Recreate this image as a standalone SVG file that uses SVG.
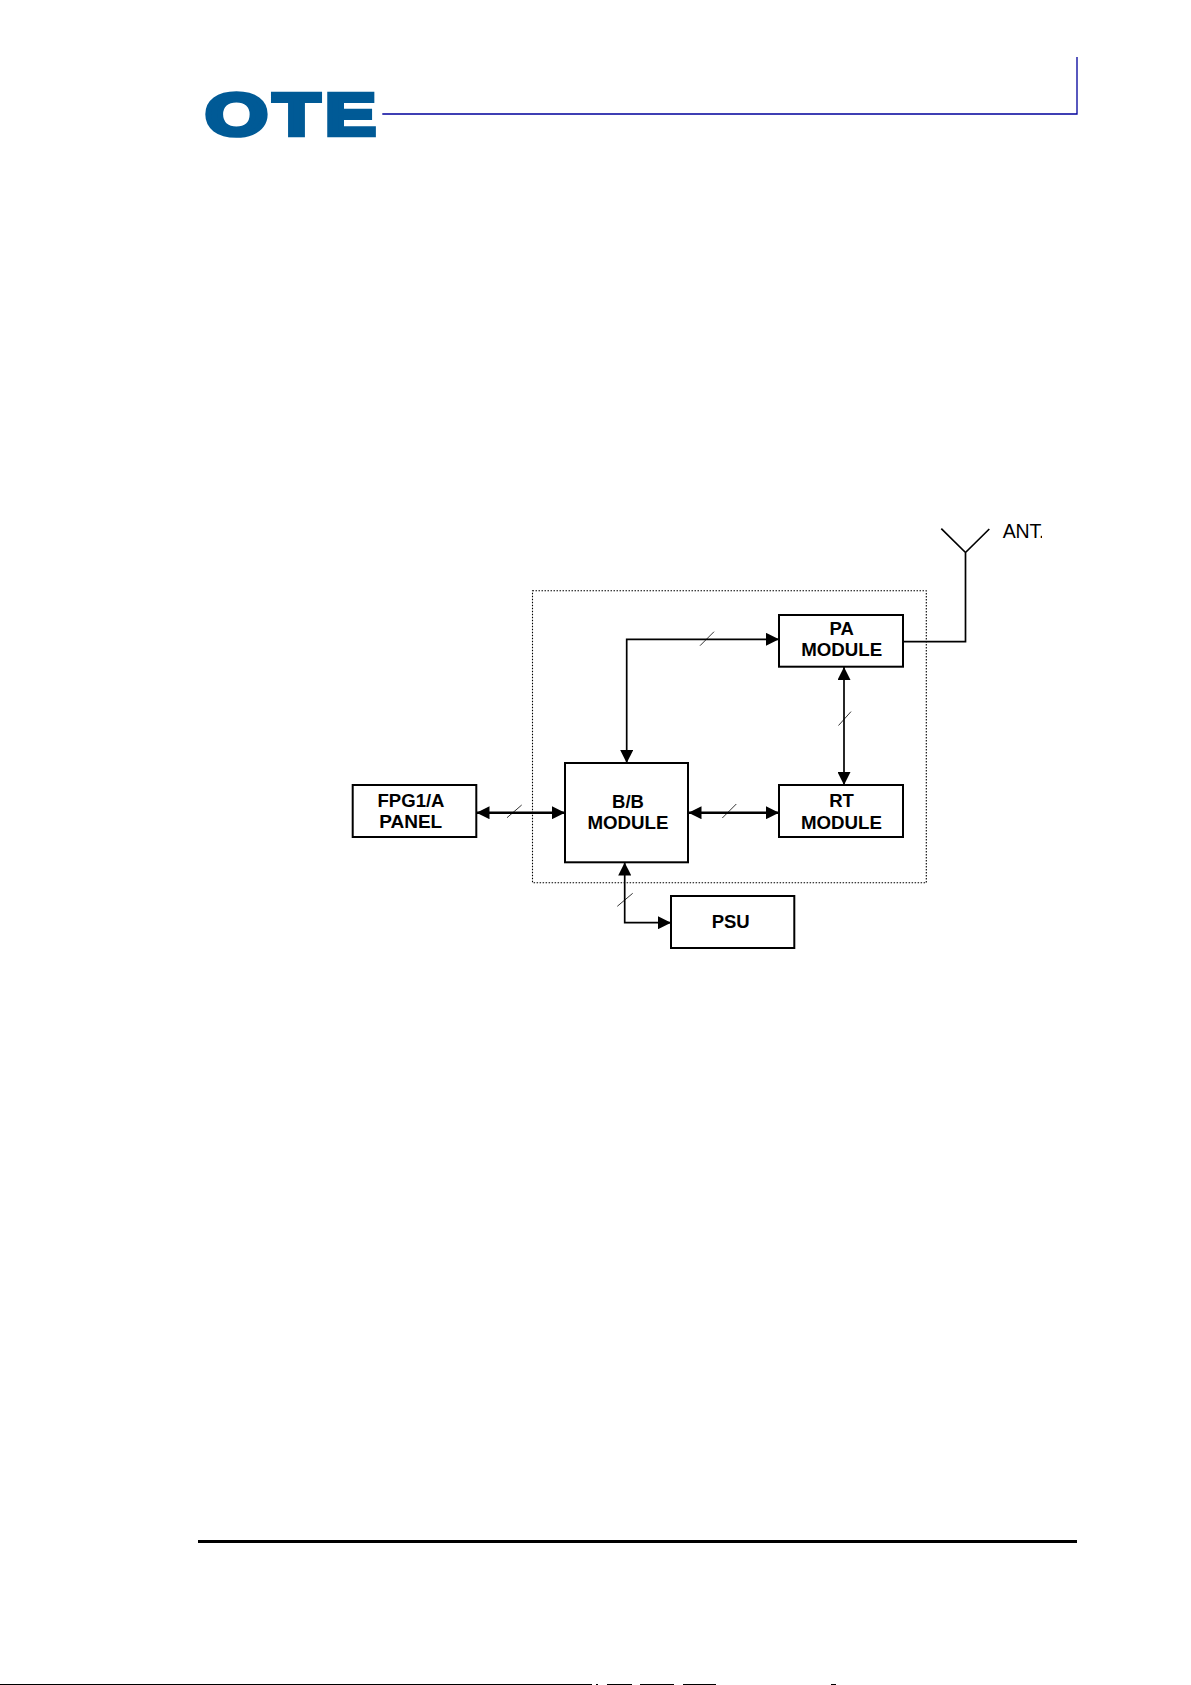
<svg xmlns="http://www.w3.org/2000/svg" width="1191" height="1685" viewBox="0 0 1191 1685">
<defs>
<style>
.box{fill:#fff;stroke:#000;stroke-width:2}
.lbl{font-family:"Liberation Sans",Arial,sans-serif;font-weight:700;font-size:18.5px;text-anchor:middle;fill:#000}
.c{fill:none;stroke:#000;stroke-width:1.7}
.t{fill:none;stroke:#000;stroke-width:2.4}
.s{fill:none;stroke:#000;stroke-width:.8}
.logo{font-family:"Liberation Sans",Arial,sans-serif;font-weight:700;font-size:60px;fill:#005a96;stroke:#005a96;stroke-width:4.5}
.edge{fill:#000}
</style>
<marker id="a" viewBox="0 0 13 13" refX="13" refY="6.5" markerUnits="userSpaceOnUse" markerWidth="13" markerHeight="13" orient="auto-start-reverse"><path d="M0 0L13 6.5L0 13z" fill="#000"/></marker>
<clipPath id="antclip"><rect x="995" y="510" width="47" height="40"/></clipPath>
</defs>
<rect width="1191" height="1685" fill="#fff"/>
<g id="header">
<text class="logo" x="205" y="135" textLength="63" lengthAdjust="spacingAndGlyphs">O</text>
<text class="logo" x="273" y="135" textLength="47" lengthAdjust="spacingAndGlyphs">T</text>
<text class="logo" x="325" y="135" textLength="51" lengthAdjust="spacingAndGlyphs">E</text>
<path d="M382.3 114H1077V57" fill="none" stroke="#00009c" stroke-width="1.3"/>
</g>
<rect id="footer-rule" x="198" y="1540" width="879" height="3" fill="#000"/>
<g id="page-edge">
<rect class="edge" x="0" y="1684" width="592" height="1"/>
<rect class="edge" x="596" y="1684" width="2" height="1"/>
<rect class="edge" x="607" y="1684" width="25" height="1"/>
<rect class="edge" x="640" y="1684" width="34" height="1"/>
<rect class="edge" x="683" y="1684" width="33" height="1"/>
<rect class="edge" x="831" y="1684" width="5" height="1"/>
</g>
<rect id="enclosure" x="532.5" y="590.7" width="393.8" height="292" fill="none" stroke="#000" stroke-width="1.1" stroke-dasharray="1.5 1.5"/>
<g id="connectors">
<path class="c" d="M626.7 763V639.3H779" marker-start="url(#a)" marker-end="url(#a)"/>
<path class="c" d="M844 667V785" marker-start="url(#a)" marker-end="url(#a)"/>
<path class="t" d="M476.5 812.7H565" marker-start="url(#a)" marker-end="url(#a)"/>
<path class="t" d="M688.5 812.7H779" marker-start="url(#a)" marker-end="url(#a)"/>
<path class="c" d="M624.7 862.5V922.7H671" marker-start="url(#a)" marker-end="url(#a)"/>
<path class="c" d="M903 641.7H965.5V552.5M965.5 552.5L941.3 528.7M965.5 552.5L989.3 529"/>
<path class="s" d="M700 645.7L714 631.7M838.5 725.5L851 711.6M507 817.7L521.7 805M722.3 818L736.3 804M617.3 906.3L632.7 893.3"/>
</g>
<g id="pa"><rect class="box" x="779" y="615" width="124" height="51.7"/><text class="lbl" x="841.7" y="635">PA</text><text class="lbl" x="841.7" y="656" textLength="81" lengthAdjust="spacingAndGlyphs">MODULE</text></g>
<g id="rt"><rect class="box" x="779" y="785" width="124" height="52"/><text class="lbl" x="841.5" y="807">RT</text><text class="lbl" x="841.5" y="828.7" textLength="81" lengthAdjust="spacingAndGlyphs">MODULE</text></g>
<g id="bb"><rect class="box" x="565" y="763" width="123" height="99.3"/><text class="lbl" x="628" y="807.5">B/B</text><text class="lbl" x="628" y="829.3" textLength="81" lengthAdjust="spacingAndGlyphs">MODULE</text></g>
<g id="fpg"><rect class="box" x="352.7" y="785" width="123.6" height="52"/><text class="lbl" x="411" y="806.7" textLength="67" lengthAdjust="spacingAndGlyphs">FPG1/A</text><text class="lbl" x="410.7" y="828" textLength="63" lengthAdjust="spacingAndGlyphs">PANEL</text></g>
<g id="psu"><rect class="box" x="671" y="896" width="123.3" height="52"/><text class="lbl" x="730.7" y="928.3">PSU</text></g>
<text id="ant" x="1002.7" y="537.5" clip-path="url(#antclip)" font-family="'Liberation Sans',sans-serif" font-size="19.5" letter-spacing="-.2" fill="#000">ANT.</text>
</svg>
